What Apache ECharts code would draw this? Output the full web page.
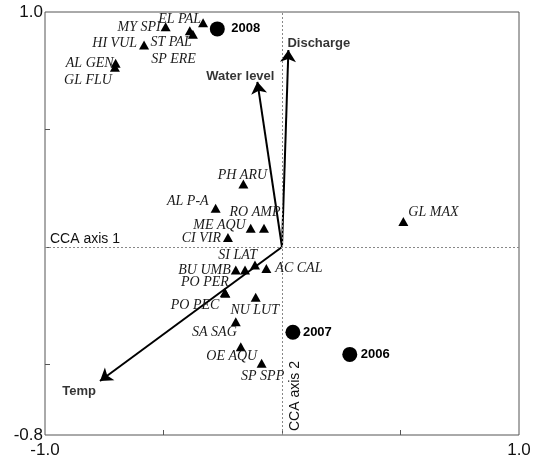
<!DOCTYPE html>
<html><head><meta charset="utf-8">
<script src="https://cdn.jsdelivr.net/npm/echarts@6/dist/echarts.min.js"></script>
<style>html,body{margin:0;padding:0;background:#fff}#c{width:542px;height:462px}</style>
</head><body><div id="c"></div>
<script>
// ---- data ----
const speciesNames = ['EL PAL','MY SPI','ST PAL','SP ERE','HI VUL','AL GEN','GL FLU','PH ARU','AL P-A','RO AMP','ME AQU','CI VIR','SI LAT','BU UMB','','AC CAL','PO PER','PO PEC','NU LUT','SA SAG','OE AQU','SP SPP','GL MAX'];
const speciesX = [-0.333,-0.491,-0.389,-0.376,-0.582,-0.702,-0.705,-0.163,-0.280,-0.076,-0.132,-0.228,-0.114,-0.195,-0.156,-0.066,-0.241,-0.239,-0.111,-0.195,-0.174,-0.086,0.512];
const speciesY = [0.954,0.937,0.920,0.905,0.860,0.782,0.765,0.268,0.165,0.080,0.080,0.040,-0.077,-0.098,-0.098,-0.091,-0.194,-0.197,-0.214,-0.318,-0.424,-0.495,0.108];
const yearNames = ['2008','2007','2006'];
const yearX = [-0.273,0.046,0.286];
const yearY = [0.928,-0.363,-0.457];
const envNames = ['Discharge','Water level','Temp'];
const envX = [0.027,-0.104,-0.768];
const envY = [0.838,0.703,-0.570];
const xTickLabels = [-1.0, 1.0];
const yTickLabels = [-0.8, 1.0];
const xTicks = [-0.5, 0, 0.5];
const yTicks = [-0.5, 0, 0.5];
const axisTitles = ['CCA axis 1','CCA axis 2'];

// ---- label placement (style only): [align, dx, dy] ----
const place = {
  'EL PAL':['right',-2,-3],'MY SPI':['right',-5,1],'ST PAL':['right',2,12],'SP ERE':['right',3,25],
  'HI VUL':['right',-7,-2],'AL GEN':['right',-2,0],'GL FLU':['right',-3,13],'PH ARU':['center',-1,-9],
  'AL P-A':['right',-7,-7],'RO AMP':['center',-9,-16],'ME AQU':['right',-5,-3],'CI VIR':['right',-7,1],
  'SI LAT':['right',2,-10],'BU UMB':['right',-5,0],'AC CAL':['left',9,0],'PO PER':['right',4,-10],
  'PO PEC':['right',-6,12],'NU LUT':['center',-1,13],'SA SAG':['right',1,11],'OE AQU':['center',-9,10],
  'SP SPP':['center',1,13],'GL MAX':['left',5,-9],
  '2008':['left',14,0],'2007':['left',10,0],'2006':['left',11,0],
  'Discharge':['left',-1,-7],'Water level':['center',-17,-5],'Temp':['right',-4,10]
};
function lab(n, font){
  const p = place[n] || ['left',0,0];
  return Object.assign({show: n !== '', position:'inside', align:p[0], verticalAlign:'middle', offset:[p[1],p[2]], formatter:'{b}'}, font);
}
const spFont = {fontFamily:'"Liberation Serif", serif', fontStyle:'italic', fontSize:14, color:'#1a1a1a'};
const bFont = {fontFamily:'"Liberation Sans", Arial, sans-serif', fontWeight:'bold', fontSize:13, color:'#000'};

const chart = echarts.init(document.getElementById('c'), null, {renderer:'canvas'});
chart.setOption({
  animation:false,
  backgroundColor:'#fff',
  grid:{left:45, top:12, width:474, height:423, show:true, borderColor:'#555', borderWidth:1, backgroundColor:'transparent'},
  xAxis:{type:'value', min:-1, max:1, splitLine:{show:false}, axisLine:{show:false, onZero:false},
    axisTick:{show:true, inside:true, length:5, lineStyle:{color:'#555'}, customValues:xTicks},
    axisLabel:{customValues:xTickLabels, formatter:v=>v.toFixed(1), fontSize:17, color:'#111', fontFamily:'"Liberation Sans", Arial, sans-serif', margin:7}},
  yAxis:{type:'value', min:-0.8, max:1.0, splitLine:{show:false}, axisLine:{show:false, onZero:false},
    axisTick:{show:true, inside:true, length:5, lineStyle:{color:'#555'}, customValues:yTicks},
    axisLabel:{customValues:yTickLabels, formatter:v=>v.toFixed(1), fontSize:17, color:'#111', fontFamily:'"Liberation Sans", Arial, sans-serif', margin:2}},
  graphic:[
    {type:'text', left:50, top:232, style:{text:axisTitles[0], font:'14px "Liberation Sans", Arial, sans-serif', fill:'#111'}},
    {type:'text', x:302, y:431, rotation:Math.PI/2, style:{text:axisTitles[1], font:'14px "Liberation Sans", Arial, sans-serif', fill:'#111', align:'left', verticalAlign:'bottom'}}
  ],
  series:[
    {type:'scatter', data:[], silent:true,
      markLine:{silent:true, symbol:'none', label:{show:false}, lineStyle:{type:[2,2], color:'#888', width:1},
        data:[{xAxis:0},{yAxis:0}]}},
    {type:'lines', coordinateSystem:'cartesian2d', silent:true, z:3,
      symbol:['none','arrow'], symbolSize:[9,12],
      lineStyle:{color:'#000', width:2, opacity:1, curveness:0},
      data: envNames.map((n,i)=>({coords:[[0,0],[envX[i],envY[i]]]}))},
    {type:'scatter', silent:true, z:4, symbolSize:0,
      data: envNames.map((n,i)=>({name:n, value:[envX[i],envY[i]], label:lab(n,bFont)}))},
    {type:'scatter', silent:true, z:5, symbol:'triangle', symbolSize:[10,9], itemStyle:{color:'#000', opacity:1},
      data: speciesNames.map((n,i)=>({name:n, value:[speciesX[i],speciesY[i]], label:lab(n,spFont)}))},
    {type:'scatter', silent:true, z:5, symbol:'circle', symbolSize:15, itemStyle:{color:'#000', opacity:1},
      data: yearNames.map((n,i)=>({name:n, value:[yearX[i],yearY[i]], label:lab(n,bFont)}))}
  ]
});
</script></body></html>
